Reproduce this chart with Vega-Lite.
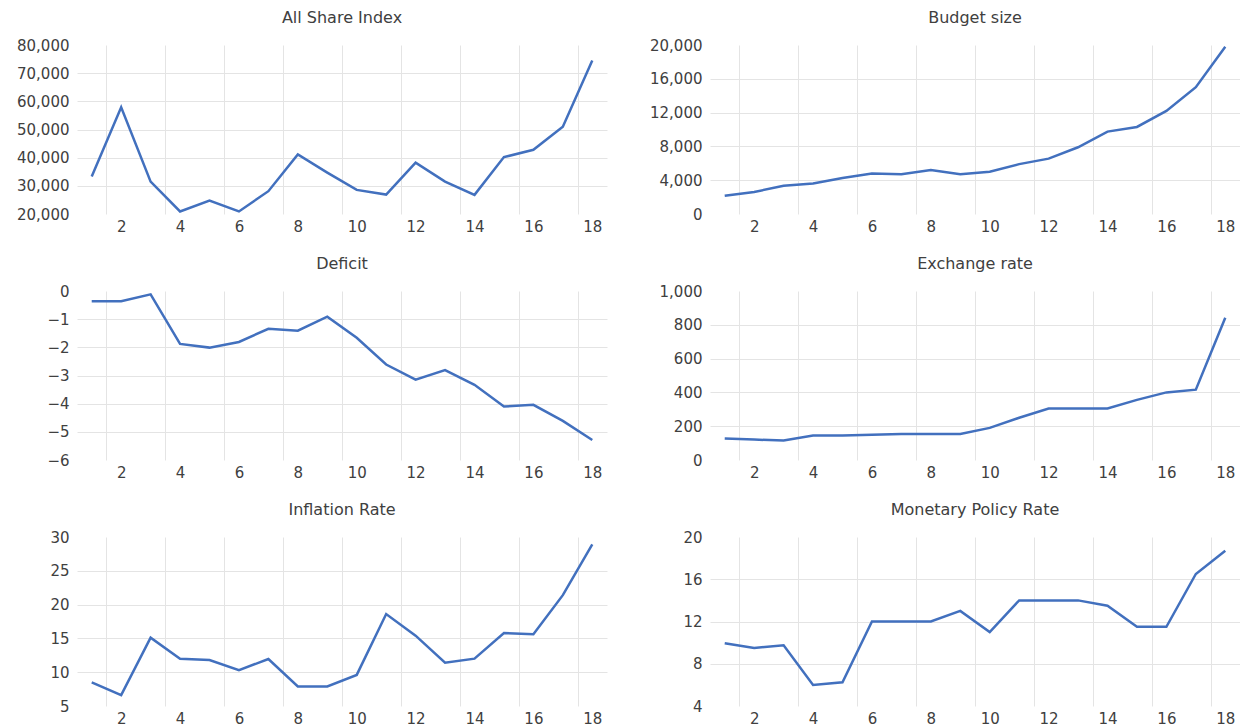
{
  "$schema": "https://vega.github.io/schema/vega-lite/v6.json",
  "background": "white",
  "padding": {"left": 16, "top": 10, "right": 0, "bottom": 0},
  "datasets": {
    "econ": [
      {"series": "All Share Index", "period": 1, "value": 33300},
      {"series": "All Share Index", "period": 2, "value": 57900},
      {"series": "All Share Index", "period": 3, "value": 31500},
      {"series": "All Share Index", "period": 4, "value": 20900},
      {"series": "All Share Index", "period": 5, "value": 24800},
      {"series": "All Share Index", "period": 6, "value": 20900},
      {"series": "All Share Index", "period": 7, "value": 28100},
      {"series": "All Share Index", "period": 8, "value": 41150},
      {"series": "All Share Index", "period": 9, "value": 34700},
      {"series": "All Share Index", "period": 10, "value": 28550},
      {"series": "All Share Index", "period": 11, "value": 26900},
      {"series": "All Share Index", "period": 12, "value": 38200},
      {"series": "All Share Index", "period": 13, "value": 31500},
      {"series": "All Share Index", "period": 14, "value": 26800},
      {"series": "All Share Index", "period": 15, "value": 40200},
      {"series": "All Share Index", "period": 16, "value": 42800},
      {"series": "All Share Index", "period": 17, "value": 51000},
      {"series": "All Share Index", "period": 18, "value": 74500},
      {"series": "Budget size", "period": 1, "value": 2150},
      {"series": "Budget size", "period": 2, "value": 2600},
      {"series": "Budget size", "period": 3, "value": 3350},
      {"series": "Budget size", "period": 4, "value": 3600},
      {"series": "Budget size", "period": 5, "value": 4250},
      {"series": "Budget size", "period": 6, "value": 4800},
      {"series": "Budget size", "period": 7, "value": 4700},
      {"series": "Budget size", "period": 8, "value": 5200},
      {"series": "Budget size", "period": 9, "value": 4700},
      {"series": "Budget size", "period": 10, "value": 5000},
      {"series": "Budget size", "period": 11, "value": 5900},
      {"series": "Budget size", "period": 12, "value": 6550},
      {"series": "Budget size", "period": 13, "value": 7900},
      {"series": "Budget size", "period": 14, "value": 9750},
      {"series": "Budget size", "period": 15, "value": 10300},
      {"series": "Budget size", "period": 16, "value": 12200},
      {"series": "Budget size", "period": 17, "value": 15000},
      {"series": "Budget size", "period": 18, "value": 19800},
      {"series": "Deficit", "period": 1, "value": -0.36},
      {"series": "Deficit", "period": 2, "value": -0.36},
      {"series": "Deficit", "period": 3, "value": -0.12},
      {"series": "Deficit", "period": 4, "value": -1.88},
      {"series": "Deficit", "period": 5, "value": -2.01},
      {"series": "Deficit", "period": 6, "value": -1.81},
      {"series": "Deficit", "period": 7, "value": -1.34},
      {"series": "Deficit", "period": 8, "value": -1.41},
      {"series": "Deficit", "period": 9, "value": -0.91},
      {"series": "Deficit", "period": 10, "value": -1.66},
      {"series": "Deficit", "period": 11, "value": -2.61},
      {"series": "Deficit", "period": 12, "value": -3.15},
      {"series": "Deficit", "period": 13, "value": -2.81},
      {"series": "Deficit", "period": 14, "value": -3.33},
      {"series": "Deficit", "period": 15, "value": -4.10},
      {"series": "Deficit", "period": 16, "value": -4.04},
      {"series": "Deficit", "period": 17, "value": -4.61},
      {"series": "Deficit", "period": 18, "value": -5.29},
      {"series": "Exchange rate", "period": 1, "value": 127},
      {"series": "Exchange rate", "period": 2, "value": 121},
      {"series": "Exchange rate", "period": 3, "value": 115},
      {"series": "Exchange rate", "period": 4, "value": 145},
      {"series": "Exchange rate", "period": 5, "value": 145},
      {"series": "Exchange rate", "period": 6, "value": 150},
      {"series": "Exchange rate", "period": 7, "value": 154},
      {"series": "Exchange rate", "period": 8, "value": 154},
      {"series": "Exchange rate", "period": 9, "value": 154},
      {"series": "Exchange rate", "period": 10, "value": 190},
      {"series": "Exchange rate", "period": 11, "value": 250},
      {"series": "Exchange rate", "period": 12, "value": 305},
      {"series": "Exchange rate", "period": 13, "value": 305},
      {"series": "Exchange rate", "period": 14, "value": 305},
      {"series": "Exchange rate", "period": 15, "value": 356},
      {"series": "Exchange rate", "period": 16, "value": 400},
      {"series": "Exchange rate", "period": 17, "value": 416},
      {"series": "Exchange rate", "period": 18, "value": 842},
      {"series": "Inflation Rate", "period": 1, "value": 8.5},
      {"series": "Inflation Rate", "period": 2, "value": 6.6},
      {"series": "Inflation Rate", "period": 3, "value": 15.1},
      {"series": "Inflation Rate", "period": 4, "value": 12.0},
      {"series": "Inflation Rate", "period": 5, "value": 11.8},
      {"series": "Inflation Rate", "period": 6, "value": 10.3},
      {"series": "Inflation Rate", "period": 7, "value": 11.95},
      {"series": "Inflation Rate", "period": 8, "value": 7.9},
      {"series": "Inflation Rate", "period": 9, "value": 7.9},
      {"series": "Inflation Rate", "period": 10, "value": 9.6},
      {"series": "Inflation Rate", "period": 11, "value": 18.6},
      {"series": "Inflation Rate", "period": 12, "value": 15.4},
      {"series": "Inflation Rate", "period": 13, "value": 11.4},
      {"series": "Inflation Rate", "period": 14, "value": 12.0},
      {"series": "Inflation Rate", "period": 15, "value": 15.8},
      {"series": "Inflation Rate", "period": 16, "value": 15.6},
      {"series": "Inflation Rate", "period": 17, "value": 21.4},
      {"series": "Inflation Rate", "period": 18, "value": 28.9},
      {"series": "Monetary Policy Rate", "period": 1, "value": 9.95},
      {"series": "Monetary Policy Rate", "period": 2, "value": 9.5},
      {"series": "Monetary Policy Rate", "period": 3, "value": 9.75},
      {"series": "Monetary Policy Rate", "period": 4, "value": 6.0},
      {"series": "Monetary Policy Rate", "period": 5, "value": 6.25},
      {"series": "Monetary Policy Rate", "period": 6, "value": 12.0},
      {"series": "Monetary Policy Rate", "period": 7, "value": 12.0},
      {"series": "Monetary Policy Rate", "period": 8, "value": 12.0},
      {"series": "Monetary Policy Rate", "period": 9, "value": 13.0},
      {"series": "Monetary Policy Rate", "period": 10, "value": 11.0},
      {"series": "Monetary Policy Rate", "period": 11, "value": 14.0},
      {"series": "Monetary Policy Rate", "period": 12, "value": 14.0},
      {"series": "Monetary Policy Rate", "period": 13, "value": 14.0},
      {"series": "Monetary Policy Rate", "period": 14, "value": 13.5},
      {"series": "Monetary Policy Rate", "period": 15, "value": 11.5},
      {"series": "Monetary Policy Rate", "period": 16, "value": 11.5},
      {"series": "Monetary Policy Rate", "period": 17, "value": 16.5},
      {"series": "Monetary Policy Rate", "period": 18, "value": 18.7}
    ]
  },
  "data": {"name": "econ"},
  "columns": 2,
  "spacing": {"row": 22, "column": 42},
  "concat": [
    {
      "title": {"text": "All Share Index"},
      "width": 530, "height": 169,
      "transform": [{"filter": "datum.series === 'All Share Index'"}],
      "mark": {"type": "line", "color": "#4270BE", "strokeWidth": 2.5},
      "encoding": {
        "x": {"field": "period", "type": "quantitative", "scale": {"domain": [0.5, 18.5], "nice": false, "zero": false},
          "axis": {"values": [1.5, 2, 3.5, 4, 5.5, 6, 7.5, 8, 9.5, 10, 11.5, 12, 13.5, 14, 15.5, 16, 17.5, 18], "labelExpr": "datum.value % 2 === 0 ? '' + datum.value : ''", "gridOpacity": {"condition": {"test": "datum.value % 2 !== 0", "value": 1}, "value": 0}}},
        "y": {"field": "value", "type": "quantitative", "scale": {"domain": [20000, 80000], "nice": false, "zero": false},
          "axis": {"values": [20000, 30000, 40000, 50000, 60000, 70000, 80000], "format": ",d", "gridOpacity": {"condition": {"test": "datum.value === 20000 || datum.value === 80000", "value": 0}, "value": 1}}}
      }
    },
    {
      "title": {"text": "Budget size"},
      "width": 530, "height": 169,
      "transform": [{"filter": "datum.series === 'Budget size'"}],
      "mark": {"type": "line", "color": "#4270BE", "strokeWidth": 2.5},
      "encoding": {
        "x": {"field": "period", "type": "quantitative", "scale": {"domain": [0.5, 18.5], "nice": false, "zero": false},
          "axis": {"values": [1.5, 2, 3.5, 4, 5.5, 6, 7.5, 8, 9.5, 10, 11.5, 12, 13.5, 14, 15.5, 16, 17.5, 18], "labelExpr": "datum.value % 2 === 0 ? '' + datum.value : ''", "gridOpacity": {"condition": {"test": "datum.value % 2 !== 0", "value": 1}, "value": 0}}},
        "y": {"field": "value", "type": "quantitative", "scale": {"domain": [0, 20000], "nice": false, "zero": false},
          "axis": {"values": [0, 4000, 8000, 12000, 16000, 20000], "format": ",d", "gridOpacity": {"condition": {"test": "datum.value === 0 || datum.value === 20000", "value": 0}, "value": 1}}}
      }
    },
    {
      "title": {"text": "Deficit"},
      "width": 530, "height": 169,
      "transform": [{"filter": "datum.series === 'Deficit'"}],
      "mark": {"type": "line", "color": "#4270BE", "strokeWidth": 2.5},
      "encoding": {
        "x": {"field": "period", "type": "quantitative", "scale": {"domain": [0.5, 18.5], "nice": false, "zero": false},
          "axis": {"values": [1.5, 2, 3.5, 4, 5.5, 6, 7.5, 8, 9.5, 10, 11.5, 12, 13.5, 14, 15.5, 16, 17.5, 18], "labelExpr": "datum.value % 2 === 0 ? '' + datum.value : ''", "gridOpacity": {"condition": {"test": "datum.value % 2 !== 0", "value": 1}, "value": 0}}},
        "y": {"field": "value", "type": "quantitative", "scale": {"domain": [-6, 0], "nice": false, "zero": false},
          "axis": {"values": [-6, -5, -4, -3, -2, -1, 0], "format": "d", "gridOpacity": {"condition": {"test": "datum.value === -6 || datum.value === 0", "value": 0}, "value": 1}}}
      }
    },
    {
      "title": {"text": "Exchange rate"},
      "width": 530, "height": 169,
      "transform": [{"filter": "datum.series === 'Exchange rate'"}],
      "mark": {"type": "line", "color": "#4270BE", "strokeWidth": 2.5},
      "encoding": {
        "x": {"field": "period", "type": "quantitative", "scale": {"domain": [0.5, 18.5], "nice": false, "zero": false},
          "axis": {"values": [1.5, 2, 3.5, 4, 5.5, 6, 7.5, 8, 9.5, 10, 11.5, 12, 13.5, 14, 15.5, 16, 17.5, 18], "labelExpr": "datum.value % 2 === 0 ? '' + datum.value : ''", "gridOpacity": {"condition": {"test": "datum.value % 2 !== 0", "value": 1}, "value": 0}}},
        "y": {"field": "value", "type": "quantitative", "scale": {"domain": [0, 1000], "nice": false, "zero": false},
          "axis": {"values": [0, 200, 400, 600, 800, 1000], "format": ",d", "gridOpacity": {"condition": {"test": "datum.value === 0 || datum.value === 1000", "value": 0}, "value": 1}}}
      }
    },
    {
      "title": {"text": "Inflation Rate"},
      "width": 530, "height": 169,
      "transform": [{"filter": "datum.series === 'Inflation Rate'"}],
      "mark": {"type": "line", "color": "#4270BE", "strokeWidth": 2.5},
      "encoding": {
        "x": {"field": "period", "type": "quantitative", "scale": {"domain": [0.5, 18.5], "nice": false, "zero": false},
          "axis": {"values": [1.5, 2, 3.5, 4, 5.5, 6, 7.5, 8, 9.5, 10, 11.5, 12, 13.5, 14, 15.5, 16, 17.5, 18], "labelExpr": "datum.value % 2 === 0 ? '' + datum.value : ''", "gridOpacity": {"condition": {"test": "datum.value % 2 !== 0", "value": 1}, "value": 0}}},
        "y": {"field": "value", "type": "quantitative", "scale": {"domain": [5, 30], "nice": false, "zero": false},
          "axis": {"values": [5, 10, 15, 20, 25, 30], "format": "d", "gridOpacity": {"condition": {"test": "datum.value === 5 || datum.value === 30", "value": 0}, "value": 1}}}
      }
    },
    {
      "title": {"text": "Monetary Policy Rate"},
      "width": 530, "height": 169,
      "transform": [{"filter": "datum.series === 'Monetary Policy Rate'"}],
      "mark": {"type": "line", "color": "#4270BE", "strokeWidth": 2.5},
      "encoding": {
        "x": {"field": "period", "type": "quantitative", "scale": {"domain": [0.5, 18.5], "nice": false, "zero": false},
          "axis": {"values": [1.5, 2, 3.5, 4, 5.5, 6, 7.5, 8, 9.5, 10, 11.5, 12, 13.5, 14, 15.5, 16, 17.5, 18], "labelExpr": "datum.value % 2 === 0 ? '' + datum.value : ''", "gridOpacity": {"condition": {"test": "datum.value % 2 !== 0", "value": 1}, "value": 0}}},
        "y": {"field": "value", "type": "quantitative", "scale": {"domain": [4, 20], "nice": false, "zero": false},
          "axis": {"values": [4, 8, 12, 16, 20], "format": "d", "gridOpacity": {"condition": {"test": "datum.value === 4 || datum.value === 20", "value": 0}, "value": 1}}}
      }
    }
  ],
  "config": {
    "font": "DejaVu Sans",
    "view": {"stroke": null},
    "title": {"fontSize": 16, "fontWeight": "normal", "color": "#404040", "font": "DejaVu Sans", "frame": "group", "anchor": "middle", "offset": 12},
    "axis": {
      "title": null,
      "domain": false,
      "ticks": false,
      "tickSize": 0,
      "labelFont": "DejaVu Sans",
      "labelFontSize": 15,
      "labelColor": "#404040",
      "gridColor": "#E4E4E4",
      "gridWidth": 1,
      "labelOverlap": false,
      "labelFlush": false
    },
    "axisX": {"labelPadding": 5},
    "axisY": {"labelPadding": 8}
  }
}
